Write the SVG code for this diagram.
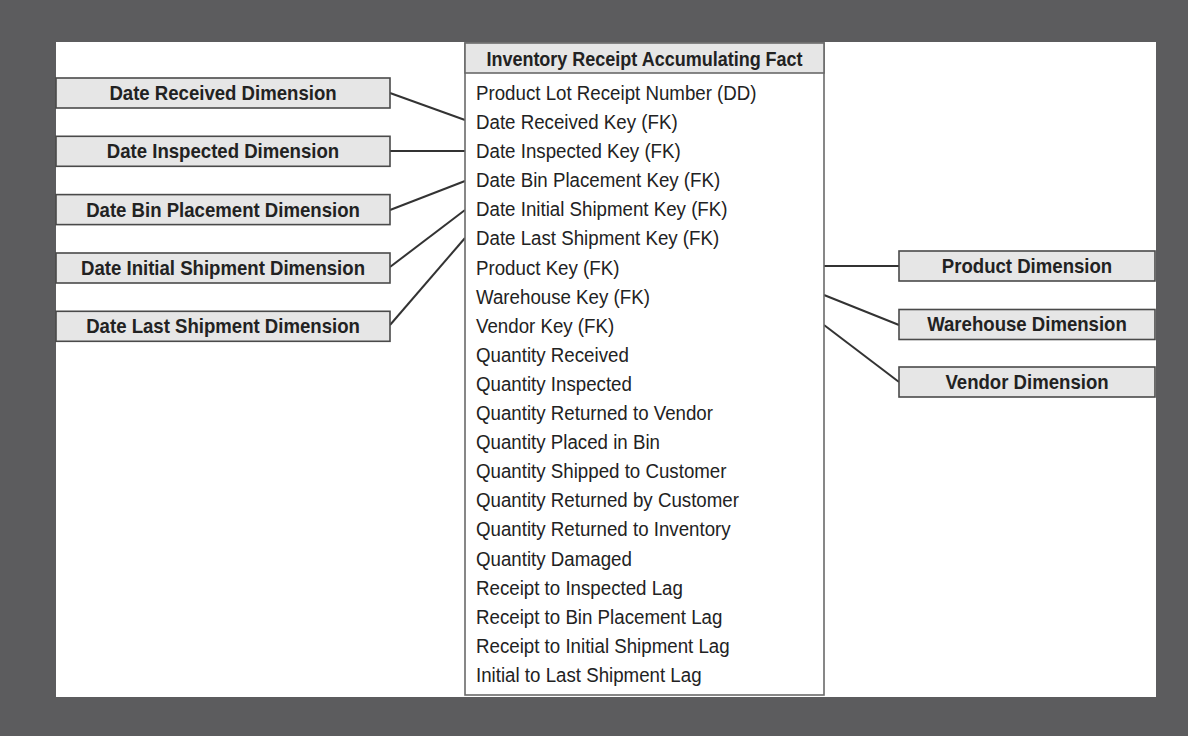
<svg xmlns="http://www.w3.org/2000/svg" width="1188" height="736" viewBox="0 0 1188 736">
<style>
.dim{fill:#e6e6e6;stroke:#4a4a4a;stroke-width:1.6}
.lbl{font-family:"Liberation Sans",Arial,sans-serif;font-weight:bold;font-size:20px;fill:#222;text-anchor:middle}
.row{font-family:"Liberation Sans",Arial,sans-serif;font-size:20px;fill:#222}
.conn{stroke:#333;stroke-width:2;fill:none}
</style>
<rect x="0" y="0" width="1188" height="736" fill="#5c5c5e"/>
<rect x="56" y="42" width="1100" height="655" fill="#ffffff"/>

<g id="connectors">
<line class="conn" x1="390" y1="93" x2="465" y2="120"/>
<line class="conn" x1="390" y1="151" x2="465" y2="151"/>
<line class="conn" x1="390" y1="210" x2="465" y2="181"/>
<line class="conn" x1="390" y1="267" x2="465" y2="210"/>
<line class="conn" x1="390" y1="325" x2="465" y2="238"/>
<line class="conn" x1="824" y1="266" x2="899" y2="266"/>
<line class="conn" x1="824" y1="295" x2="899" y2="325"/>
<line class="conn" x1="824" y1="325" x2="899" y2="382"/>
</g>

<g id="fact">
<rect x="465" y="43" width="359" height="652" fill="#fff" stroke="#6a6a6a" stroke-width="1.6"/>
<rect x="465" y="43" width="359" height="30" fill="#e6e6e6" stroke="#6a6a6a" stroke-width="1.6"/>
<g transform="translate(644.5 0) scale(0.9 1)"><text class="lbl" x="0" y="66">Inventory Receipt Accumulating Fact</text></g>
<g transform="translate(476 0) scale(0.935 1)">
<text class="row" x="0" y="100">Product Lot Receipt Number (DD)</text>
<text class="row" x="0" y="129.1">Date Received Key (FK)</text>
<text class="row" x="0" y="158.2">Date Inspected Key (FK)</text>
<text class="row" x="0" y="187.3">Date Bin Placement Key (FK)</text>
<text class="row" x="0" y="216.4">Date Initial Shipment Key (FK)</text>
<text class="row" x="0" y="245.5">Date Last Shipment Key (FK)</text>
<text class="row" x="0" y="274.6">Product Key (FK)</text>
<text class="row" x="0" y="303.7">Warehouse Key (FK)</text>
<text class="row" x="0" y="332.8">Vendor Key (FK)</text>
<text class="row" x="0" y="361.9">Quantity Received</text>
<text class="row" x="0" y="391">Quantity Inspected</text>
<text class="row" x="0" y="420.1">Quantity Returned to Vendor</text>
<text class="row" x="0" y="449.2">Quantity Placed in Bin</text>
<text class="row" x="0" y="478.3">Quantity Shipped to Customer</text>
<text class="row" x="0" y="507.4">Quantity Returned by Customer</text>
<text class="row" x="0" y="536.5">Quantity Returned to Inventory</text>
<text class="row" x="0" y="565.6">Quantity Damaged</text>
<text class="row" x="0" y="594.7">Receipt to Inspected Lag</text>
<text class="row" x="0" y="623.8">Receipt to Bin Placement Lag</text>
<text class="row" x="0" y="652.9">Receipt to Initial Shipment Lag</text>
<text class="row" x="0" y="682">Initial to Last Shipment Lag</text>
</g>
</g>

<g id="date-received">
<rect class="dim" x="56" y="78" width="334" height="30"/>
<g transform="translate(223 0) scale(0.93 1)"><text class="lbl" x="0" y="100">Date Received Dimension</text></g>
</g>
<g id="date-inspected">
<rect class="dim" x="56" y="136.3" width="334" height="30"/>
<g transform="translate(223 0) scale(0.93 1)"><text class="lbl" x="0" y="158.3">Date Inspected Dimension</text></g>
</g>
<g id="date-bin-placement">
<rect class="dim" x="56" y="194.6" width="334" height="30"/>
<g transform="translate(223 0) scale(0.93 1)"><text class="lbl" x="0" y="216.6">Date Bin Placement Dimension</text></g>
</g>
<g id="date-initial-shipment">
<rect class="dim" x="56" y="253" width="334" height="30"/>
<g transform="translate(223 0) scale(0.93 1)"><text class="lbl" x="0" y="275">Date Initial Shipment Dimension</text></g>
</g>
<g id="date-last-shipment">
<rect class="dim" x="56" y="311.3" width="334" height="30"/>
<g transform="translate(223 0) scale(0.93 1)"><text class="lbl" x="0" y="333.3">Date Last Shipment Dimension</text></g>
</g>

<g id="product">
<rect class="dim" x="899" y="251" width="256" height="30"/>
<g transform="translate(1027 0) scale(0.93 1)"><text class="lbl" x="0" y="273">Product Dimension</text></g>
</g>
<g id="warehouse">
<rect class="dim" x="899" y="309.5" width="256" height="30"/>
<g transform="translate(1027 0) scale(0.93 1)"><text class="lbl" x="0" y="331.5">Warehouse Dimension</text></g>
</g>
<g id="vendor">
<rect class="dim" x="899" y="367" width="256" height="30"/>
<g transform="translate(1027 0) scale(0.93 1)"><text class="lbl" x="0" y="389">Vendor Dimension</text></g>
</g>
</svg>
